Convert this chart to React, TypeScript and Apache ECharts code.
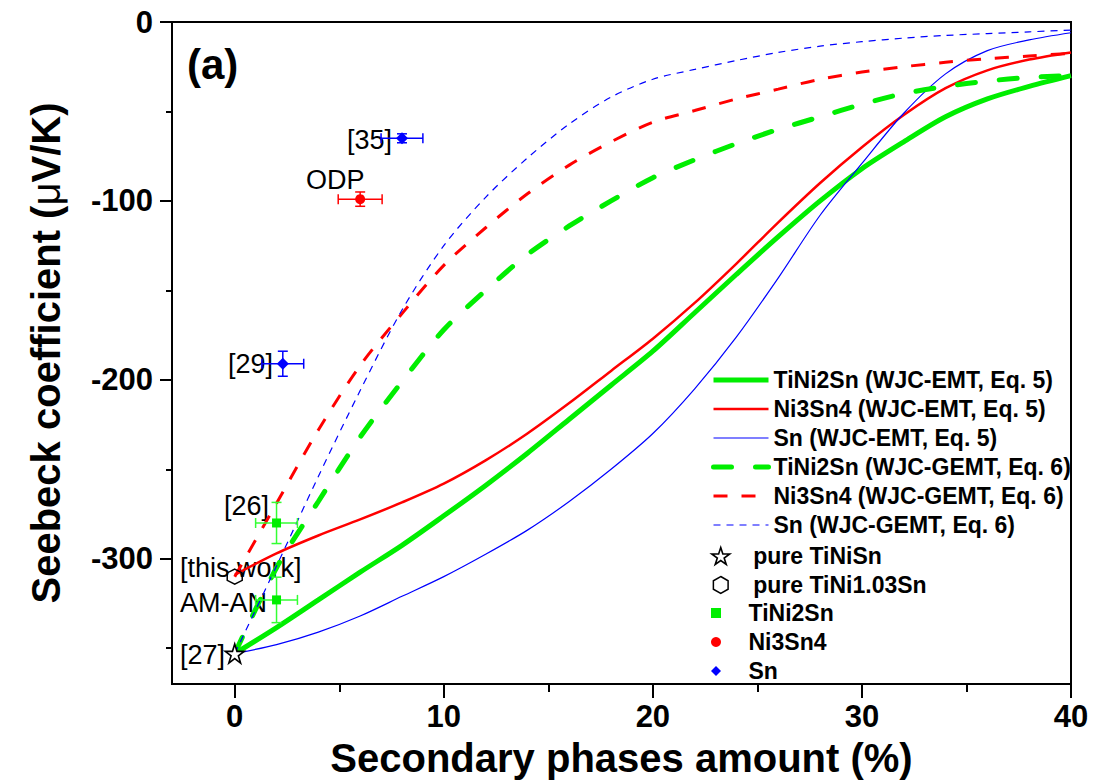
import React, { useEffect, useRef } from "react";
import * as echarts from "echarts";

// ---------- data ----------
const xs = [0, 2, 4, 6, 8, 10, 12, 14, 16, 18, 20, 22, 24, 26, 28, 30, 32, 34, 36, 38, 40];

const tini2snEMT = [-353, -338.5, -323, -307.5, -292.5, -276, -259, -241, -222, -203, -184, -162.5, -141, -120, -100, -82, -67, -53, -43, -36, -30];
const ni3sn4EMT = [-309, -297, -287, -278, -268.5, -258, -245, -230, -213, -195, -177, -157, -135, -112, -90, -70, -52, -37, -27, -21, -17];
const snEMT = [-353, -348, -341, -332, -321, -310, -297.5, -284, -268, -250, -230, -205, -176, -143, -108, -79, -51, -29, -16, -10, -6];
const tini2snGEMT = [-353, -305, -268, -232, -201, -172, -150, -130, -114, -100, -87, -77, -68, -60, -53, -46, -40, -36, -33, -31, -30];
const ni3sn4GEMT = [-310, -269, -228, -192, -163, -136, -115, -96, -80, -67, -56, -49.5, -43, -37.5, -32, -28, -25, -22.5, -20.5, -19, -17.5];
const snGEMT = [-353, -304, -254, -206, -161, -125, -98, -76, -57, -42, -32, -26.5, -21.5, -17, -13.5, -11, -9, -7.5, -6.5, -5.5, -4.5];

const pureTiNiSn = [[0, -353]];
const pureTiNi103Sn = [[0, -310]];

const tini2snPtX = [2, 2];
const tini2snPtY = [-280, -323];
const tini2snPtXErr = [1, 1];
const tini2snPtYErr = [11.5, 12.7];

const ni3sn4PtX = [6];
const ni3sn4PtY = [-99];
const ni3sn4PtXErr = [1.05];
const ni3sn4PtYErr = [4];

const snPtX = [2.3, 8];
const snPtY = [-191, -65];
const snPtXErr = [1, 1];
const snPtYErr = [7, 2.5];

const xMajorTicks = [0, 10, 20, 30, 40];
const xMinorTicks = [5, 15, 25, 35];
const yMajorTicks = [-300, -200, -100, 0];
const yMinorTicks = [-350, -250, -150, -50];

const lineNames = [
  "TiNi2Sn (WJC-EMT, Eq. 5)",
  "Ni3Sn4 (WJC-EMT, Eq. 5)",
  "Sn (WJC-EMT, Eq. 5)",
  "TiNi2Sn (WJC-GEMT, Eq. 6)",
  "Ni3Sn4 (WJC-GEMT, Eq. 6)",
  "Sn (WJC-GEMT, Eq. 6)",
];

// ---------- helpers ----------
const FONT = '"Liberation Sans", Arial, Helvetica, sans-serif';
const GREEN = "#00ee00";
const RED = "#ff0000";
const BLUE = "#0000ff";

const STAR =
  "path://M0,-10 L2.245,-3.09 L9.511,-3.09 L3.633,1.18 L5.878,8.09 L0,3.82 L-5.878,8.09 L-3.633,1.18 L-9.511,-3.09 L-2.245,-3.09 Z";
const HEX = "path://M0,-10 L8.66,-5 L8.66,5 L0,10 L-8.66,5 L-8.66,-5 Z";
const SQUARE = "path://M-1,-1 L1,-1 L1,1 L-1,1 Z";
const DIAMOND = "path://M0,-1 L1,0 L0,1 L-1,0 Z";

const zip = (a: number[], b: number[]) => a.map((v, i) => [v, b[i]]);
const zip4 = (a: number[], b: number[], c: number[], d: number[]) =>
  a.map((v, i) => [v, b[i], c[i], d[i]]);

function errSeries(data: number[][], color: string) {
  return {
    type: "custom",
    xAxisIndex: 0,
    yAxisIndex: 0,
    z: 3,
    silent: true,
    dimensions: ["x", "y", "ex", "ey"],
    encode: { x: 0, y: 1 },
    data,
    renderItem: (params: any, api: any) => {
      const x = api.value(0);
      const y = api.value(1);
      const ex = api.value(2);
      const ey = api.value(3);
      const c = api.coord([x, y]);
      const l = api.coord([x - ex, y]);
      const r = api.coord([x + ex, y]);
      const t = api.coord([x, y + ey]);
      const b = api.coord([x, y - ey]);
      const st = { stroke: color, lineWidth: 1.5, fill: null };
      const cap = 5;
      return {
        type: "group",
        children: [
          { type: "line", shape: { x1: l[0], y1: c[1], x2: r[0], y2: c[1] }, style: st },
          { type: "line", shape: { x1: l[0], y1: c[1] - cap, x2: l[0], y2: c[1] + cap }, style: st },
          { type: "line", shape: { x1: r[0], y1: c[1] - cap, x2: r[0], y2: c[1] + cap }, style: st },
          { type: "line", shape: { x1: c[0], y1: t[1], x2: c[0], y2: b[1] }, style: st },
          { type: "line", shape: { x1: c[0] - cap, y1: t[1], x2: c[0] + cap, y2: t[1] }, style: st },
          { type: "line", shape: { x1: c[0] - cap, y1: b[1], x2: c[0] + cap, y2: b[1] }, style: st },
        ],
      };
    },
  };
}

function lineSeries(name: string, ys: number[], color: string, width: number, type: any, cap = "butt") {
  return {
    name,
    type: "line",
    data: zip(xs, ys),
    symbol: "none",
    showSymbol: false,
    smooth: 0.3,
    z: 2,
    lineStyle: { color, width, type, cap },
    itemStyle: { color },
    emphasis: { disabled: true },
  };
}

const legendCommon = {
  orient: "vertical",
  left: 706,
  itemWidth: 55,
  itemGap: 5,
  selectedMode: false,
  textStyle: { fontFamily: FONT, fontSize: 23, fontWeight: "bold", color: "#000", lineHeight: 24 },
  lineStyle: { width: "inherit" },
  symbolKeepAspect: true,
};

const annot = (text: string, x: number, y: number, align: string) => ({
  type: "text",
  x,
  y,
  style: { text, font: `27px ${FONT}`, fill: "#000", textAlign: align, textVerticalAlign: "middle" },
});

export default function App() {
  const ref = useRef<HTMLDivElement>(null);
  useEffect(() => {
    if (!ref.current) return;
    const chart = echarts.init(ref.current, null, { renderer: "svg" });
    const axisLineStyle = { color: "#000", width: 2 };
    const option: any = {
      animation: false,
      backgroundColor: "#fff",
      grid: { left: 172, right: 25, top: 22, bottom: 100, show: true, borderColor: "#000", borderWidth: 2, backgroundColor: "transparent" },
      xAxis: [
        {
          type: "value",
          min: -3,
          max: 40,
          position: "bottom",
          name: "Secondary phases amount (%)",
          nameLocation: "middle",
          nameGap: 54,
          nameTextStyle: { fontFamily: FONT, fontSize: 40, fontWeight: "bold", color: "#000" },
          axisLine: { show: true, onZero: false, lineStyle: axisLineStyle },
          axisTick: { show: true, length: 14, customValues: xMajorTicks, lineStyle: { color: "#000", width: 2 } },
          axisLabel: { customValues: xMajorTicks, fontFamily: FONT, fontSize: 31, fontWeight: "bold", color: "#000", margin: 17 },
          splitLine: { show: false },
        },
        {
          type: "value",
          min: -3,
          max: 40,
          position: "bottom",
          axisLine: { show: false, onZero: false },
          axisTick: { show: true, length: 8, customValues: xMinorTicks, lineStyle: { color: "#000", width: 2 } },
          axisLabel: { show: false },
          splitLine: { show: false },
        },
      ],
      yAxis: [
        {
          type: "value",
          min: -370,
          max: 0,
          position: "left",
          name: "{b|Seebeck coefficient (}{n|μ}{b|V/K)}",
          nameLocation: "middle",
          nameGap: 106,
          nameTextStyle: {
            color: "#000",
            rich: {
              b: { fontFamily: FONT, fontSize: 40, fontWeight: "bold", color: "#000" },
              n: { fontFamily: FONT, fontSize: 40, fontWeight: "normal", color: "#000" },
            },
          },
          axisLine: { show: true, onZero: false, lineStyle: axisLineStyle },
          axisTick: { show: true, length: 12, customValues: yMajorTicks, lineStyle: { color: "#000", width: 2 } },
          axisLabel: { customValues: yMajorTicks, fontFamily: FONT, fontSize: 31, fontWeight: "bold", color: "#000", margin: 19 },
          splitLine: { show: false },
        },
        {
          type: "value",
          min: -370,
          max: 0,
          position: "left",
          axisLine: { show: false, onZero: false },
          axisTick: { show: true, length: 6, customValues: yMinorTicks, lineStyle: { color: "#000", width: 2 } },
          axisLabel: { show: false },
          splitLine: { show: false },
        },
      ],
      legend: [
        { ...legendCommon, top: 363, itemHeight: 14, itemStyle: { opacity: 0 }, data: lineNames },
        { ...legendCommon, top: 539, itemHeight: 17, itemStyle: { borderWidth: "inherit" }, data: ["pure TiNiSn", "pure TiNi1.03Sn"] },
        { ...legendCommon, top: 596, itemHeight: 10, itemStyle: { borderWidth: "inherit" }, data: ["TiNi2Sn", "Ni3Sn4", "Sn"] },
      ],
      graphic: [
        { type: "text", x: 187, y: 64, style: { text: "(a)", font: `bold 42px ${FONT}`, fill: "#000", textAlign: "left", textVerticalAlign: "middle" } },
        annot("[35]", 392, 140, "right"),
        annot("ODP", 306, 180, "left"),
        annot("[29]", 273, 364, "right"),
        annot("[26]", 269, 506, "right"),
        annot("[this work]", 180, 568, "left"),
        annot("AM-AN", 180, 603, "left"),
        annot("[27]", 180, 655, "left"),
      ],
      series: [
        lineSeries(lineNames[0], tini2snEMT, GREEN, 5),
        lineSeries(lineNames[1], ni3sn4EMT, RED, 2.5),
        lineSeries(lineNames[2], snEMT, BLUE, 1.2),
        lineSeries(lineNames[3], tini2snGEMT, GREEN, 5, [18, 24], "round"),
        lineSeries(lineNames[4], ni3sn4GEMT, RED, 3, [14, 14]),
        lineSeries(lineNames[5], snGEMT, BLUE, 1.2, [7, 6]),
        errSeries(zip4(tini2snPtX, tini2snPtY, tini2snPtXErr, tini2snPtYErr), "#33ff33"),
        errSeries(zip4(ni3sn4PtX, ni3sn4PtY, ni3sn4PtXErr, ni3sn4PtYErr), RED),
        errSeries(zip4(snPtX, snPtY, snPtXErr, snPtYErr), BLUE),
        {
          name: "pure TiNiSn",
          type: "scatter",
          data: pureTiNiSn,
          symbol: STAR,
          symbolSize: 19,
          z: 5,
          itemStyle: { color: "#fff", borderColor: "#000", borderWidth: 1.6, opacity: 1 },
        },
        {
          name: "pure TiNi1.03Sn",
          type: "scatter",
          data: pureTiNi103Sn,
          symbol: HEX,
          symbolSize: 15,
          z: 5,
          itemStyle: { color: "rgba(255,255,255,0)", borderColor: "#000", borderWidth: 1.5, opacity: 1 },
        },
        {
          name: "TiNi2Sn",
          type: "scatter",
          data: zip(tini2snPtX, tini2snPtY),
          symbol: SQUARE,
          symbolSize: 9,
          z: 5,
          itemStyle: { color: GREEN, opacity: 1 },
        },
        {
          name: "Ni3Sn4",
          type: "scatter",
          data: zip(ni3sn4PtX, ni3sn4PtY),
          symbol: "circle",
          symbolSize: 10,
          z: 5,
          itemStyle: { color: RED, opacity: 1 },
        },
        {
          name: "Sn",
          type: "scatter",
          data: zip(snPtX, snPtY),
          symbol: DIAMOND,
          symbolSize: 12,
          z: 5,
          itemStyle: { color: BLUE, opacity: 1 },
        },
      ],
    };
    chart.setOption(option);
    return () => chart.dispose();
  }, []);
  return (
    <div
      ref={ref}
      style={{ position: "fixed", left: 0, top: 0, width: 1096, height: 784, background: "#fff" }}
    />
  );
}
